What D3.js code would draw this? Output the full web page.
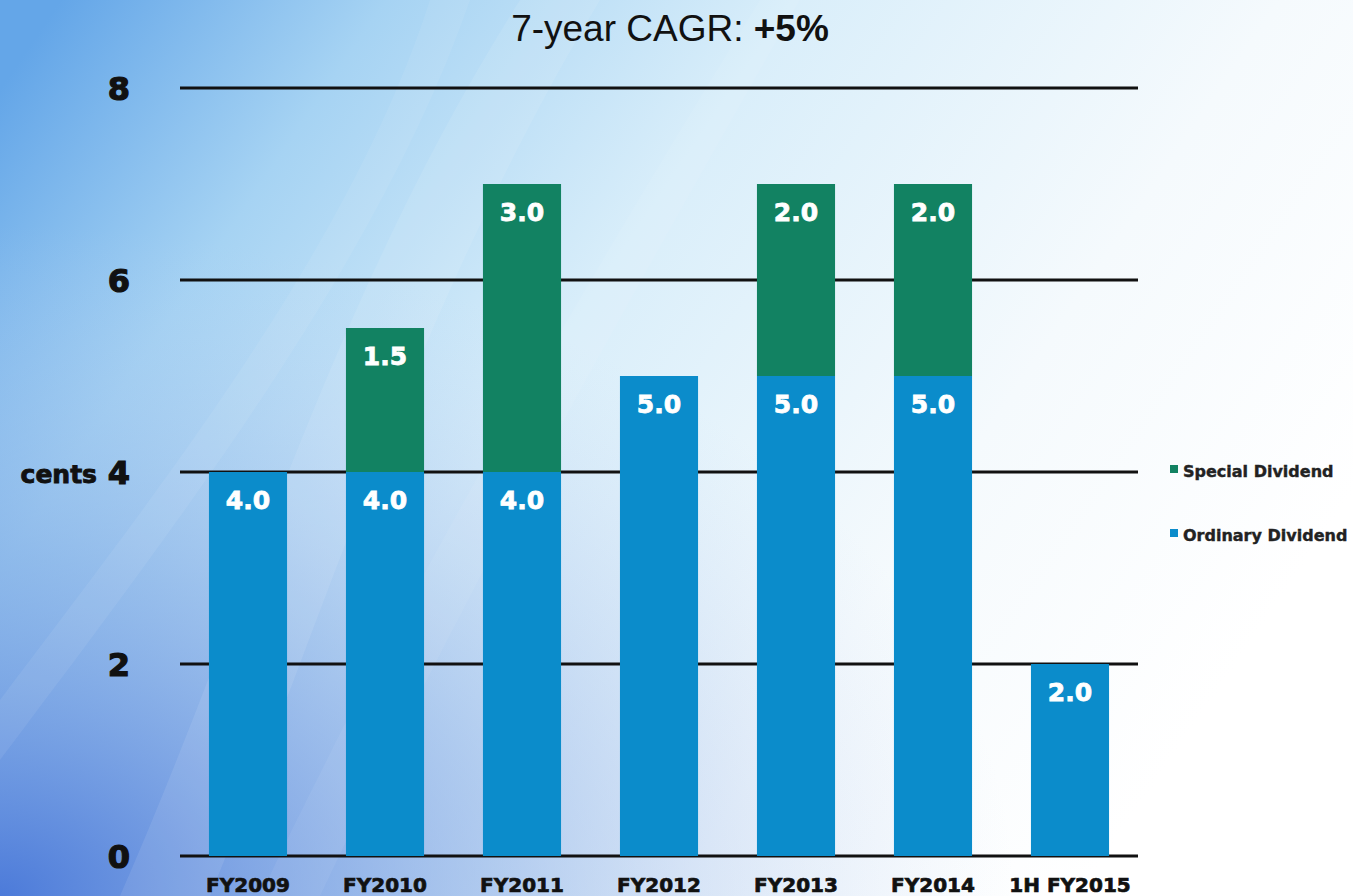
<!DOCTYPE html>
<html>
<head>
<meta charset="utf-8">
<script src="https://cdn.jsdelivr.net/npm/d3@7"></script>
<style>
  html, body { margin: 0; padding: 0; background: #fff; }
  svg { display: block; }
</style>
</head>
<body>
<svg id="chart" width="1353" height="896"></svg>
<script>
// Dividend per share, cents
const years = ["FY2009", "FY2010", "FY2011", "FY2012", "FY2013", "FY2014", "1H FY2015"];
const ordinary = [4.0, 4.0, 4.0, 5.0, 5.0, 5.0, 2.0];
const special = [0, 1.5, 3.0, 0, 2.0, 2.0, 0];
const yTicks = [0, 2, 4, 6, 8];
const seriesNames = ["Special Dividend", "Ordinary Dividend"];
const seriesColors = ["#128262", "#0b8ccb"];

const W = 1353, H = 896;
const HEAVY = "'DejaVu Sans', sans-serif";
const svg = d3.select("#chart");
const defs = svg.append("defs");

// Backdrop: blue wash fading to white towards the right
const bg = defs.append("linearGradient").attr("id", "bg")
  .attr("x1", "0").attr("y1", "0.1").attr("x2", "1").attr("y2", "0.55");
bg.append("stop").attr("offset", "0").attr("stop-color", "#64a6e8");
bg.append("stop").attr("offset", "0.2").attr("stop-color", "#a6d3f3");
bg.append("stop").attr("offset", "0.45").attr("stop-color", "#d9eefa");
bg.append("stop").attr("offset", "0.75").attr("stop-color", "#f5fafd");
bg.append("stop").attr("offset", "1").attr("stop-color", "#ffffff");
svg.append("rect").attr("width", W).attr("height", H).attr("fill", "url(#bg)");

// darker violet-blue pooling in the bottom-left corner
const corner = defs.append("radialGradient").attr("id", "corner")
  .attr("cx", "0").attr("cy", "1").attr("r", "0.75");
corner.append("stop").attr("offset", "0").attr("stop-color", "#3f6fd6").attr("stop-opacity", 0.9);
corner.append("stop").attr("offset", "0.5").attr("stop-color", "#6f9ae0").attr("stop-opacity", 0.45);
corner.append("stop").attr("offset", "1").attr("stop-color", "#b8cdf0").attr("stop-opacity", 0);
svg.append("rect").attr("width", W).attr("height", H).attr("fill", "url(#corner)");

// soft light sweeps across the backdrop
const sweeps = [
  "M120,896 C250,600 330,300 520,0 L600,0 C420,300 330,600 210,896 Z",
  "M0,700 C150,500 350,250 430,0 L470,0 C380,260 180,520 0,760 Z",
  "M260,896 C420,560 600,260 760,0 L800,0 C640,280 470,580 320,896 Z"
];
svg.append("g").selectAll("path").data(sweeps).join("path")
  .attr("d", d => d)
  .attr("fill", "#ffffff")
  .attr("opacity", (d, i) => [0.09, 0.07, 0.06][i]);

// Scales
const x = d3.scaleBand().domain(years).range([179.5, 1138.5])
  .paddingInner(0.43).paddingOuter(0.215);
const y = d3.scaleLinear().domain([0, 8]).range([856, 88]);

// Gridlines
svg.append("g").selectAll("line").data(yTicks).join("line")
  .attr("x1", 180).attr("x2", 1138)
  .attr("y1", d => y(d)).attr("y2", d => y(d))
  .attr("stroke", "#111").attr("stroke-width", 3);

// heavy text helper: bold face thickened with a thin outline of the same colour
function heavy(sel, size, color, sw) {
  return sel.attr("font-family", HEAVY).attr("font-weight", "bold")
    .attr("font-size", size).attr("fill", color)
    .attr("stroke", color).attr("stroke-width", sw).attr("paint-order", "stroke");
}

// Y tick labels
heavy(svg.append("g").selectAll("text").data(yTicks).join("text")
  .attr("x", 130).attr("y", d => y(d) + 12)
  .attr("text-anchor", "end"), 32, "#111", 1.2)
  .text(d => d);

heavy(svg.append("text")
  .attr("x", 97).attr("y", 483)
  .attr("text-anchor", "end"), 25, "#111", 0.9)
  .text("cents");

// Stacked bars
const rows = years.map((yr, i) => ({ year: yr, ordinary: ordinary[i], special: special[i] }));
const stack = d3.stack().keys(["ordinary", "special"]);
const layers = stack(rows);
const colorOf = { ordinary: seriesColors[1], special: seriesColors[0] };

const lg = svg.append("g").selectAll("g").data(layers).join("g");
lg.selectAll("rect").data(d => d.filter(s => s[1] - s[0] > 0).map(s => Object.assign(s, { key: d.key }))).join("rect")
  .attr("x", d => x(d.data.year))
  .attr("width", x.bandwidth())
  .attr("y", d => y(d[1]))
  .attr("height", d => y(d[0]) - y(d[1]))
  .attr("fill", d => colorOf[d.key]);

// Value labels near the top of each segment
heavy(lg.selectAll("text").data(d => d.filter(s => s[1] - s[0] > 0)).join("text")
  .attr("x", d => x(d.data.year) + x.bandwidth() / 2)
  .attr("y", d => y(d[1]) + 37)
  .attr("text-anchor", "middle"), 25, "#ffffff", 0.8)
  .text(d => (d[1] - d[0]).toFixed(1));

// Category labels
heavy(svg.append("g").selectAll("text").data(years).join("text")
  .attr("x", d => x(d) + x.bandwidth() / 2)
  .attr("y", 892)
  .attr("text-anchor", "middle"), 20, "#111", 0.7)
  .text(d => d);

// Legend
const legend = svg.append("g").selectAll("g").data(seriesNames).join("g")
  .attr("transform", (d, i) => `translate(1170, ${i === 0 ? 471 : 535})`);
legend.append("rect")
  .attr("x", 0).attr("y", -6).attr("width", 8).attr("height", 8)
  .attr("fill", (d, i) => seriesColors[i]);
heavy(legend.append("text")
  .attr("x", 13).attr("y", 6), 16, "#222", 0.4)
  .text(d => d);

// Title
const title = svg.append("text")
  .attr("x", 670).attr("y", 41)
  .attr("text-anchor", "middle")
  .attr("font-family", "'Liberation Sans', Arial, sans-serif")
  .attr("font-size", 37).attr("fill", "#111");
title.append("tspan").text("7-year CAGR: ");
title.append("tspan").attr("font-weight", "bold").text("+5%");
</script>
</body>
</html>
